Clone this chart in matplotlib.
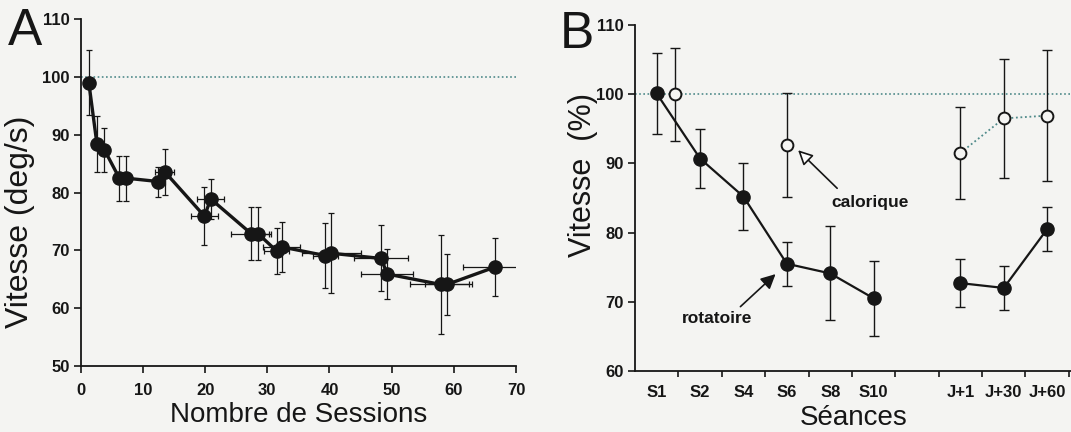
import numpy as np
import matplotlib.pyplot as plt

plt.rcParams['font.family'] = ['Liberation Sans', 'DejaVu Sans']

# Panel A: speed vs number of sessions
sessions = [1.3, 2.6, 3.8, 6.2, 7.2, 12.5, 13.5, 19.9, 20.9, 27.4, 28.5, 31.5, 32.3,
            39.3, 40.3, 48.3, 49.3, 57.9, 58.9, 66.6]
vitesse_a = [99.0, 88.4, 87.4, 82.5, 82.5, 81.9, 83.6, 75.9, 78.9, 72.9, 72.9, 69.9, 70.6,
             69.1, 69.5, 68.6, 65.9, 64.1, 64.1, 67.1]
yerr_a = [5.6, 4.9, 3.8, 3.9, 3.9, 2.6, 4.0, 5.0, 3.5, 4.6, 4.6, 4.0, 4.3,
          5.6, 6.9, 5.7, 4.3, 8.6, 5.3, 5.0]
xerr_a = [0, 0, 0, 0, 0, 1.0, 1.5, 2.1, 2.2, 3.2, 1.8, 2.0, 3.0,
          2.0, 4.7, 4.3, 4.2, 5.0, 3.5, 5.1]

# Panel B: speed (%) per seance
seances = ['S1', 'S2', 'S4', 'S6', 'S8', 'S10', '', 'J+1', 'J+30', 'J+60']
rot_pos1 = [0, 1, 2, 3, 4, 5]
rot_val1 = [100.1, 90.7, 85.2, 75.5, 74.1, 70.5]
rot_err1 = [5.9, 4.2, 4.8, 3.2, 6.8, 5.4]
rot_pos2 = [7, 8, 9]
rot_val2 = [72.7, 72.0, 80.5]
rot_err2 = [3.5, 3.2, 3.2]
cal_pos1 = [0.42, 3]
cal_val1 = [100.0, 92.7]
cal_err1 = [6.7, 7.5]
cal_pos2 = [7, 8, 9]
cal_val2 = [91.5, 96.5, 96.9]
cal_err2 = [6.7, 8.6, 9.5]

ink = '#161616'
dotc = '#4f8a8a'
bg = '#f4f4f2'

fig = plt.figure(figsize=(10.71, 4.32), dpi=100, facecolor=bg)

""" Panel A """
ax = fig.add_axes([0.0754, 0.1528, 0.4064, 0.803])
ax.set_facecolor(bg)
ax.plot([0, 70], [100, 100], color=dotc, ls=(0, (1, 1.5)), lw=1.2)
ax.errorbar(sessions, vitesse_a, yerr=yerr_a, xerr=xerr_a, fmt='none',
            ecolor=ink, elinewidth=0.9, capsize=2.5, capthick=0.9)
ax.plot(sessions, vitesse_a, color=ink, lw=2.4, marker='o', ms=9.5,
        mfc=ink, mec=ink)
ax.set_xlim(0, 70)
ax.set_ylim(50, 110)
ax.set_xticks(np.arange(0, 71, 10))
ax.set_yticks(np.arange(50, 111, 10))
ax.spines['top'].set_visible(False)
ax.spines['right'].set_visible(False)
for s in ['left', 'bottom']:
    ax.spines[s].set_linewidth(1.3)
    ax.spines[s].set_color(ink)
ax.tick_params(axis='x', length=5, width=1.2, pad=7, labelsize=12, colors=ink)
ax.tick_params(axis='y', length=5, width=1.2, pad=3, labelsize=12, colors=ink)
for lab in ax.get_xticklabels() + ax.get_yticklabels():
    lab.set_fontweight('bold')
fig.text(0.019, 0.486, 'Vitesse (deg/s)', rotation=90, ha='center', va='center',
         fontsize=23, color=ink)
fig.text(0.279, 0.04, 'Nombre de Sessions', ha='center', va='center',
         fontsize=20, color=ink)
fig.text(0.023, 0.926, 'A', ha='center', va='center', fontsize=37, color=ink)

""" Panel B """
bx = fig.add_axes([0.5929, 0.1412, 0.4071, 0.801])
bx.set_facecolor(bg)
bx.axhline(100, color=dotc, ls=(0, (1, 1.5)), lw=1.2)
bx.plot(cal_pos2, cal_val2, color=dotc, ls=(0, (1, 1.5)), lw=1.3)
bx.errorbar(rot_pos1 + rot_pos2, rot_val1 + rot_val2, yerr=rot_err1 + rot_err2,
            fmt='none', ecolor=ink, elinewidth=1.0, capsize=3.5, capthick=1.0)
bx.errorbar(cal_pos1 + cal_pos2, cal_val1 + cal_val2, yerr=cal_err1 + cal_err2,
            fmt='none', ecolor=ink, elinewidth=1.0, capsize=3.5, capthick=1.0)
bx.plot(rot_pos1, rot_val1, color=ink, lw=1.6, marker='o', ms=9.5, mfc=ink, mec=ink)
bx.plot(rot_pos2, rot_val2, color=ink, lw=1.6, marker='o', ms=9.5, mfc=ink, mec=ink)
bx.plot(cal_pos1 + cal_pos2, cal_val1 + cal_val2, ls='none', marker='o', ms=8.5,
        mfc=bg, mec=ink, mew=1.4)
bx.set_xlim(-0.5, 9.55)
bx.set_ylim(60, 110)
bx.set_xticks(range(len(seances)))
bx.set_xticklabels(seances)
bx.set_xticks(np.arange(0.5, 10, 1), minor=True)
bx.set_yticks(np.arange(60, 111, 10))
bx.spines['top'].set_visible(False)
bx.spines['right'].set_visible(False)
for s in ['left', 'bottom']:
    bx.spines[s].set_linewidth(1.3)
    bx.spines[s].set_color(ink)
bx.tick_params(axis='x', which='major', length=0, pad=10, labelsize=12, colors=ink)
bx.tick_params(axis='x', which='minor', length=4, width=1.2, colors=ink)
bx.tick_params(axis='y', length=5, width=1.2, pad=3, labelsize=12, colors=ink)
for lab in bx.get_xticklabels() + bx.get_yticklabels():
    lab.set_fontweight('bold')

bx.annotate('', xy=(3.26, 91.9), xytext=(4.16, 86.4),
            arrowprops=dict(arrowstyle='-|>', fc='white', ec=ink, lw=1.2,
                            mutation_scale=22, shrinkA=0, shrinkB=0))
bx.annotate('', xy=(2.74, 74.0), xytext=(1.93, 69.3),
            arrowprops=dict(arrowstyle='-|>', fc=ink, ec=ink, lw=1.2,
                            mutation_scale=22, shrinkA=0, shrinkB=0))
bx.text(4.92, 84.4, 'calorique', ha='center', va='center', fontsize=12.5,
        fontweight='bold', color=ink)
bx.text(1.39, 67.6, 'rotatoire', ha='center', va='center', fontsize=12.5,
        fontweight='bold', color=ink)

fig.text(0.544, 0.595, 'Vitesse  (%)', rotation=90, ha='center', va='center',
         fontsize=22, color=ink)
fig.text(0.797, 0.033, 'Séances', ha='center', va='center', fontsize=20, color=ink)
fig.text(0.539, 0.919, 'B', ha='center', va='center', fontsize=37, color=ink)

fig.savefig('out.png', dpi=100, facecolor=bg)
